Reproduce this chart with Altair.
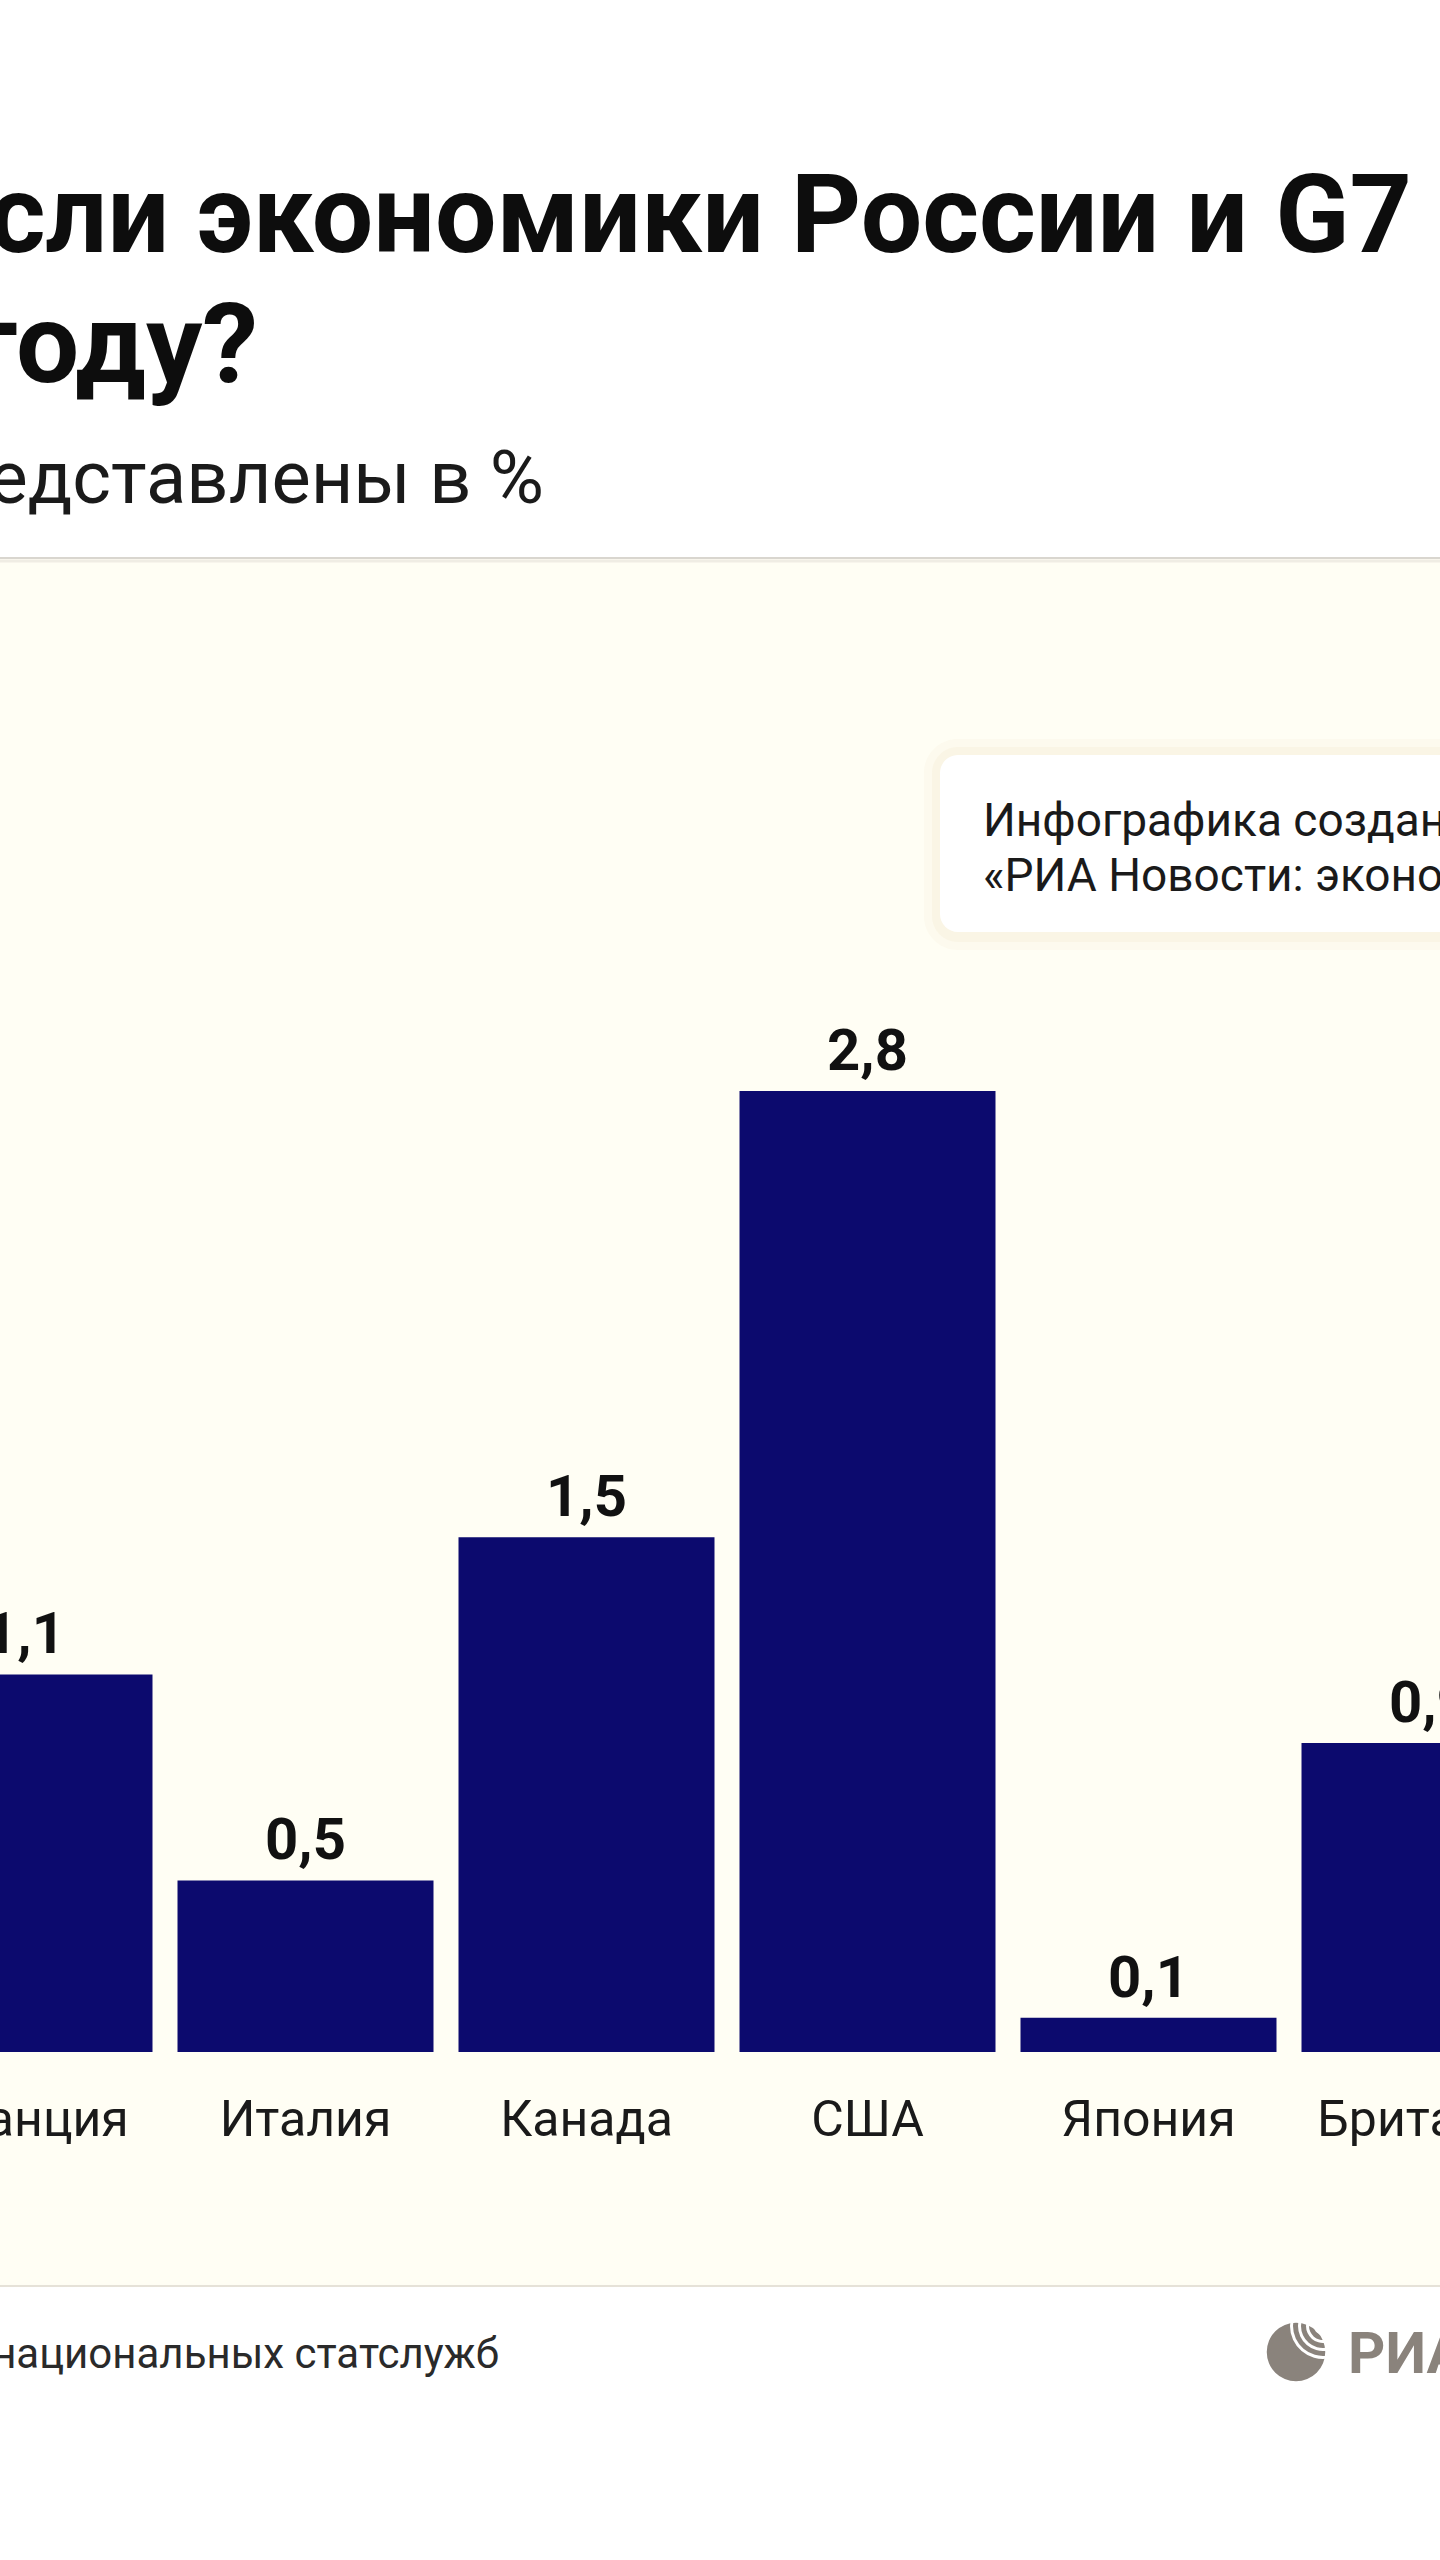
import math
import altair as alt
import pandas as pd

# ---------------- data ----------------
countries = ["Франция", "Италия", "Канада", "США", "Япония", "Британия"]
growth = [1.1, 0.5, 1.5, 2.8, 0.1, 0.9]

title_line1 = "сли экономики России и G7"
title_line2 = "году?"
subtitle = "едставлены в %"
note_line1 = "Инфографика создан"
note_line2 = "«РИА Новости: эконо"
source_text = "национальных статслужб"
logo_text = "РИА"

W, H = 1440, 2560
BAR_COLOR = "#0C0A6E"
PANEL = "#FFFEF4"
FONT = "Roboto"

df = pd.DataFrame({
    "country": countries,
    "value": growth,
    "label": [f"{v:.1f}".replace(".", ",") for v in growth],
})

one = pd.DataFrame({"k": [0]})

x_scale = alt.Scale(domain=countries, range=[-116, 1570],
                    paddingInner=0.089, paddingOuter=0.0445)
y_scale = alt.Scale(domain=[-1.4802, 5.979], nice=False, zero=False)

X = alt.X("country:N", scale=x_scale, axis=None, sort=countries)
Y = alt.Y("value:Q", scale=y_scale, axis=None)


def text_item(txt, x, y, size, weight="normal", align="left", color="#111111"):
    return alt.Chart(pd.DataFrame({"t": [txt]})).mark_text(
        font=FONT, fontSize=size, fontWeight=weight, align=align,
        baseline="alphabetic", color=color
    ).encode(x=alt.value(x), y=alt.value(y), text="t:N")


def rect_item(x, x2, y, y2, fill, opacity=1.0, radius=0):
    return alt.Chart(one).mark_rect(
        fill=fill, opacity=opacity, cornerRadius=radius
    ).encode(x=alt.value(x), x2=alt.value(x2), y=alt.value(y), y2=alt.value(y2))


def hrule(y, color, width=1.5, opacity=1.0):
    return alt.Chart(one).mark_rule(color=color, strokeWidth=width, opacity=opacity).encode(
        x=alt.value(0), x2=alt.value(W), y=alt.value(y))


# ---------------- background panel ----------------
panel = rect_item(0, W, 558, 2286, PANEL)
panel_top = hrule(558, "#d9d6cf", 2)
panel_top_sh = hrule(561, "#ece9e0", 3, 0.8)
panel_bottom = hrule(2286, "#e6e2d8", 2)

# note box with soft shadow
box_sh1 = rect_item(924, W + 40, 739, 950, "#f7eedb", 0.25, 34)
box_sh2 = rect_item(932, W + 40, 747, 942, "#f5ead2", 0.3, 26)
box = rect_item(940, W + 40, 755, 932, "#FFFFFF", 1.0, 18)
note1 = text_item(note_line1, 983, 836, 46, color="#1a1a1a")
note2 = text_item(note_line2, 983, 891, 46, color="#1a1a1a")

# ---------------- titles ----------------
t1 = text_item(title_line1, 1412, 252, 109, "bold", "right", "#0d0d0d")
t2 = text_item(title_line2, 258, 382, 112, "bold", "right", "#0d0d0d")
sub = text_item(subtitle, 544, 503, 74, "normal", "right", "#1a1a1a")

# ---------------- bars ----------------
base = alt.Chart(df)
bars = base.mark_bar(color=BAR_COLOR, clip=True).encode(x=X, y=Y, y2=alt.datum(0))
values = base.mark_text(font=FONT, fontWeight="bold", fontSize=58, baseline="alphabetic",
                        dy=-21, color="#111111", clip=True).encode(x=X, y=Y, text="label:N")
cats = base.mark_text(font=FONT, fontSize=50, baseline="alphabetic",
                      color="#1a1a1a", clip=True).encode(x=X, y=alt.value(2136), text="country:N")

# ---------------- footer ----------------
src = text_item(source_text, 499, 2368, 42, "normal", "right", "#2a2a2a")
LOGO = "#8A837C"
logo_circle = alt.Chart(one).mark_circle(color=LOGO, opacity=1).encode(
    x=alt.value(1296), y=alt.value(2352), size=alt.value(math.pi * 33 * 33))
arcs = []
for r1, r2 in [(6, 9), (14, 17), (22, 25), (30, 33)]:
    arcs.append(alt.Chart(one).mark_arc(color="#FFFFFF").encode(
        x=alt.value(1323), y=alt.value(2326),
        radius=alt.value(r2), radius2=alt.value(r1),
        theta=alt.value(math.pi * 0.95), theta2=alt.value(math.pi * 2.05)))
logo_txt = text_item(logo_text, 1348, 2373, 58, "bold", "left", LOGO)

chart = alt.layer(
    panel, panel_top_sh, panel_top, panel_bottom,
    box_sh1, box_sh2, box, note1, note2,
    t1, t2, sub,
    bars, values, cats,
    src, logo_circle, *arcs, logo_txt,
).properties(
    width=W, height=H, padding=0, autosize=alt.AutoSizeParams(type="none"),
    background="white",
).configure_view(stroke=None)

chart.save("out.html", embed_options={"renderer": "svg", "actions": False})
